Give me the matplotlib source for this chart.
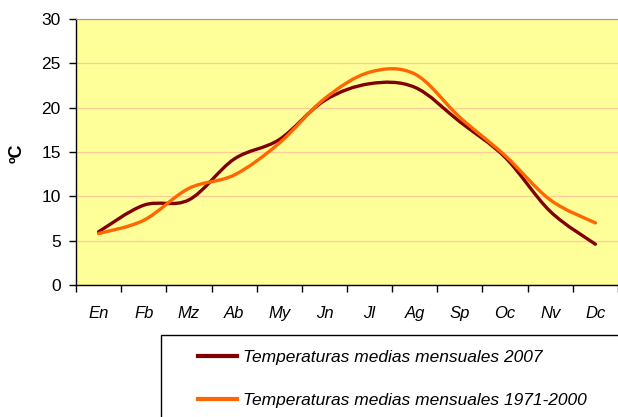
import numpy as np
import matplotlib
matplotlib.use('Agg')
import matplotlib.pyplot as plt
from matplotlib.path import Path
from matplotlib.patches import PathPatch, Rectangle
from matplotlib.lines import Line2D

plt.rcParams['font.family'] = ['Liberation Sans', 'DejaVu Sans']

months = ['En', 'Fb', 'Mz', 'Ab', 'My', 'Jn', 'Jl', 'Ag', 'Sp', 'Oc', 'Nv', 'Dc']
temp_2007 = [6.0, 9.0, 9.6, 14.2, 16.4, 20.8, 22.7, 22.3, 18.4, 14.4, 8.3, 4.6]
temp_1971_2000 = [5.8, 7.3, 10.9, 12.4, 16.0, 21.0, 24.0, 23.8, 18.9, 14.6, 9.6, 7.0]
labels = ['Temperaturas medias mensuales 2007',
          'Temperaturas medias mensuales 1971-2000']
colors = ['#800000', '#FF6600']


def smooth_path(x, y):
    """Bezier path through every point, like a spreadsheet 'smoothed line'."""
    p = np.column_stack([x, y]).astype(float)
    ext = np.vstack([p[0], p, p[-1]])
    verts = [p[0]]
    codes = [Path.MOVETO]
    for i in range(len(p) - 1):
        c1 = ext[i + 1] + (ext[i + 2] - ext[i]) / 6
        c2 = ext[i + 2] - (ext[i + 3] - ext[i + 1]) / 6
        verts += [c1, c2, p[i + 1]]
        codes += [Path.CURVE4] * 3
    return Path(verts, codes)


fig = plt.figure(figsize=(6.18, 4.17), dpi=100)
ax = fig.add_axes([76 / 618, 1 - 285 / 417, 542 / 618, 266 / 417])
ax.set_facecolor('#FFFF99')

x = np.arange(len(months))
for vals, col in zip([temp_2007, temp_1971_2000], colors):
    ax.add_patch(PathPatch(smooth_path(x, vals), fill=False, edgecolor=col,
                           lw=2.4, capstyle='round', joinstyle='round', zorder=3))

ax.set_xlim(-0.5, len(months) - 0.5)
ax.set_ylim(0, 30)
ax.set_yticks(range(0, 31, 5))
ax.yaxis.grid(True, color='#FFCC99', lw=1)
ax.set_axisbelow(True)

ax.set_xticks(x)
ax.set_xticklabels(months, fontstyle='italic', fontsize=12)
ax.set_xticks(np.arange(-0.5, len(months), 1), minor=True)
ax.tick_params(axis='x', which='major', length=0, pad=15)
ax.tick_params(axis='x', which='minor', length=5, width=1, direction='out')
ax.tick_params(axis='y', length=5, width=1, pad=6, labelsize=12.5)

ax.spines['top'].set_color('#999999')
ax.spines['right'].set_visible(False)
ax.spines['left'].set_linewidth(1)
ax.spines['bottom'].set_linewidth(1)

fig.text(17 / 618, 1 - 153 / 417, 'ºC', rotation=90, fontsize=13,
         fontweight='bold', ha='center', va='center')

# legend box runs off the right and bottom edges
fig.patches.append(Rectangle((161 / 618, -0.05), 0.8, 1 - 335 / 417 + 0.05,
                             transform=fig.transFigure, fill=False,
                             edgecolor='black', lw=1))
handles = [Line2D([], [], color=c, lw=3) for c in colors]
fig.legend(handles, labels, loc='upper left',
           bbox_to_anchor=(191 / 618, 1 - 343 / 417), frameon=False,
           borderaxespad=0, prop={'style': 'italic', 'size': 12.5},
           handlelength=2.25, handletextpad=0.35, labelspacing=1.62)

fig.savefig('out.png', dpi=100)
